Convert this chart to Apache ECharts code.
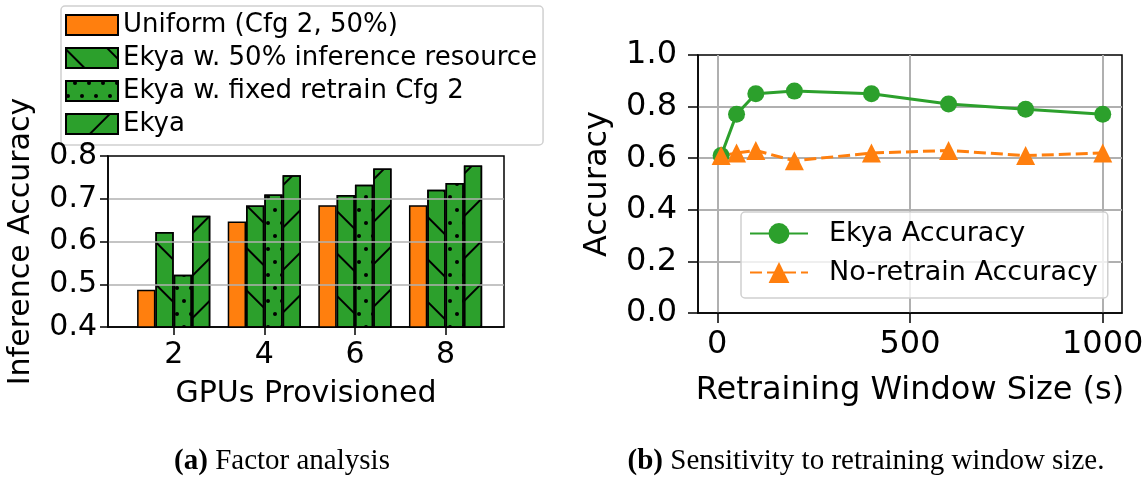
<!DOCTYPE html>
<html>
<head>
<meta charset="utf-8">
<script src="https://cdn.jsdelivr.net/npm/echarts@6/dist/echarts.min.js"></script>
<style>
  html, body { margin: 0; padding: 0; background: #fff; }
  #chart { width: 1148px; height: 477px; }
</style>
</head>
<body>
<div id="chart"></div>
<script>
// (a) Factor analysis: accuracy per number of provisioned GPUs
const gpus = [2, 4, 6, 8];
const gpuTicks = [2, 4, 6, 8];
const barNames = ['Uniform (Cfg 2, 50%)', 'Ekya w. 50% inference resource', 'Ekya w. fixed retrain Cfg 2', 'Ekya'];
const uniformAcc = [0.487, 0.647, 0.685, 0.685];
const halfInferenceAcc = [0.622, 0.684, 0.709, 0.721];
const fixedRetrainAcc = [0.522, 0.710, 0.733, 0.737];
const ekyaAcc = [0.660, 0.755, 0.771, 0.778];

// (b) Sensitivity to the retraining window size
const windowSizes = [10, 50, 100, 200, 400, 600, 800, 1000];
const windowTicks = [0, 500, 1000];
const lineNames = ['Ekya Accuracy', 'No-retrain Accuracy'];
const ekyaWindowAcc = [0.61, 0.77, 0.85, 0.86, 0.85, 0.81, 0.79, 0.77];
const noRetrainAcc = [0.61, 0.62, 0.63, 0.59, 0.62, 0.63, 0.61, 0.62];

const FONT = 'DejaVu Sans';
const ORANGE = '#ff7f0e';
const GREEN = '#2ca02c';
const GRIDC = '#b0b0b0';

// hatch fills drawn as decals
const hatchBack = { symbol: 'rect', symbolSize: 1, color: '#000', dashArrayX: [1, 0], dashArrayY: [2, 28], rotation: Math.PI / 4 };
const hatchFwd = { symbol: 'rect', symbolSize: 1, color: '#000', dashArrayX: [1, 0], dashArrayY: [2, 28], rotation: -Math.PI / 4 };
const hatchDots = { symbol: 'circle', symbolSize: 1, color: '#000', dashArrayX: [[4, 9.3], [0, 6.65, 4, 2.65]], dashArrayY: [4, 9] };

const barValues = [uniformAcc, halfInferenceAcc, fixedRetrainAcc, ekyaAcc];
const barDecals = [null, hatchBack, hatchDots, hatchFwd];

const barSeries = barValues.map((vals, i) => {
  const itemStyle = { color: i === 0 ? ORANGE : GREEN, borderColor: '#000', borderWidth: 1.5 };
  if (barDecals[i]) itemStyle.decal = barDecals[i];
  return {
    type: 'bar', name: barNames[i], xAxisIndex: 0, yAxisIndex: 0,
    data: gpus.map((g, j) => [g, vals[j]]),
    barWidth: 18.3, barGap: '0%',
    itemStyle
  };
});

const lineSeries = [
  {
    type: 'line', name: lineNames[0], xAxisIndex: 1, yAxisIndex: 1,
    data: windowSizes.map((w, i) => [w, ekyaWindowAcc[i]]),
    symbol: 'circle', symbolSize: 17,
    lineStyle: { color: GREEN, width: 3 },
    itemStyle: { color: GREEN }
  },
  {
    type: 'line', name: lineNames[1], xAxisIndex: 1, yAxisIndex: 1,
    data: windowSizes.map((w, i) => [w, noRetrainAcc[i]]),
    symbol: 'triangle', symbolSize: 19,
    lineStyle: { color: ORANGE, width: 3, type: [12, 5] },
    itemStyle: { color: ORANGE }
  }
];

const axisTextStyle = (size) => ({ fontFamily: FONT, fontSize: size, color: '#000' });
const captionStyle = {
  fontFamily: 'Liberation Serif', fontSize: 29, fontWeight: 'normal', color: '#000',
  rich: { b: { fontFamily: 'Liberation Serif', fontSize: 29, fontWeight: 'bold', color: '#000' } }
};

const option = {
  animation: false,
  backgroundColor: '#fff',
  title: [
    { text: '{b|(a)} Factor analysis', left: 277, top: 442, textAlign: 'center', textStyle: captionStyle },
    { text: '{b|(b)} Sensitivity to retraining window size.', left: 861, top: 442, textAlign: 'center', textStyle: captionStyle }
  ],
  legend: [
    {
      data: barNames, orient: 'vertical', left: 61, top: 6,
      icon: 'rect', itemWidth: 52, itemHeight: 20, itemGap: 7,
      padding: [6, 6, 8, 4],
      borderColor: '#d0d0d0', borderWidth: 1.5, borderRadius: 4,
      textStyle: { fontFamily: FONT, fontSize: 26, color: '#000' }
    },
    {
      data: lineNames, orient: 'vertical', left: 741, top: 212,
      itemWidth: 58, itemHeight: 26, itemGap: 12,
      padding: [8, 10, 12, 8],
      backgroundColor: 'rgba(255,255,255,0.8)',
      borderColor: '#d0d0d0', borderWidth: 1.5, borderRadius: 4,
      textStyle: { fontFamily: FONT, fontSize: 27, color: '#000', padding: [0, 0, 0, 16] }
    }
  ],
  grid: [
    { left: 108, top: 156, width: 396, height: 171, show: true, borderColor: '#000', borderWidth: 1.5, backgroundColor: 'transparent' },
    { left: 698, top: 55, width: 424, height: 258, show: true, borderColor: '#000', borderWidth: 1.5, backgroundColor: 'transparent' }
  ],
  xAxis: [
    {
      gridIndex: 0, type: 'value', min: 0.55, max: 9.29,
      name: 'GPUs Provisioned', nameLocation: 'middle', nameGap: 52,
      nameTextStyle: axisTextStyle(30),
      axisLine: { show: true, onZero: false, lineStyle: { color: '#000', width: 1.5 } },
      axisTick: { show: true, length: 8, customValues: gpuTicks, lineStyle: { color: '#000', width: 1.5 } },
      axisLabel: { customValues: gpuTicks, margin: 13, ...axisTextStyle(30) },
      splitLine: { show: false }
    },
    {
      gridIndex: 1, type: 'value', min: -50, max: 1050,
      name: 'Retraining Window Size (s)', nameLocation: 'middle', nameGap: 62,
      nameTextStyle: axisTextStyle(32),
      axisLine: { show: true, onZero: false, lineStyle: { color: '#000', width: 1.5 } },
      axisTick: { show: true, length: 10, customValues: windowTicks, lineStyle: { color: '#000', width: 1.5 } },
      axisLabel: { customValues: windowTicks, margin: 16, formatter: v => String(v), ...axisTextStyle(32) },
      splitLine: { show: true, lineStyle: { color: GRIDC, width: 2 } }
    }
  ],
  yAxis: [
    {
      gridIndex: 0, type: 'value', min: 0.4, max: 0.8, interval: 0.1, zlevel: 1,
      name: 'Inference Accuracy', nameLocation: 'middle', nameGap: 72,
      nameTextStyle: axisTextStyle(30),
      axisLine: { show: true, onZero: false, lineStyle: { color: '#000', width: 1.5 } },
      axisTick: { show: true, length: 8, lineStyle: { color: '#000', width: 1.5 } },
      axisLabel: { margin: 11, formatter: v => v.toFixed(1), ...axisTextStyle(30) },
      splitLine: { show: true, showMinLine: false, showMaxLine: false, lineStyle: { color: GRIDC, width: 1.5 } }
    },
    {
      gridIndex: 1, type: 'value', min: 0, max: 1, interval: 0.2,
      name: 'Accuracy', nameLocation: 'middle', nameGap: 84,
      nameTextStyle: axisTextStyle(32),
      axisLine: { show: true, onZero: false, lineStyle: { color: '#000', width: 1.5 } },
      axisTick: { show: true, length: 10, lineStyle: { color: '#000', width: 1.5 } },
      axisLabel: { margin: 21, formatter: v => v.toFixed(1), ...axisTextStyle(32) },
      splitLine: { show: true, showMinLine: false, showMaxLine: false, lineStyle: { color: GRIDC, width: 2 } }
    }
  ],
  series: [...barSeries, ...lineSeries]
};

const chart = echarts.init(document.getElementById('chart'), null, { renderer: 'canvas' });
chart.setOption(option);
</script>
</body>
</html>
